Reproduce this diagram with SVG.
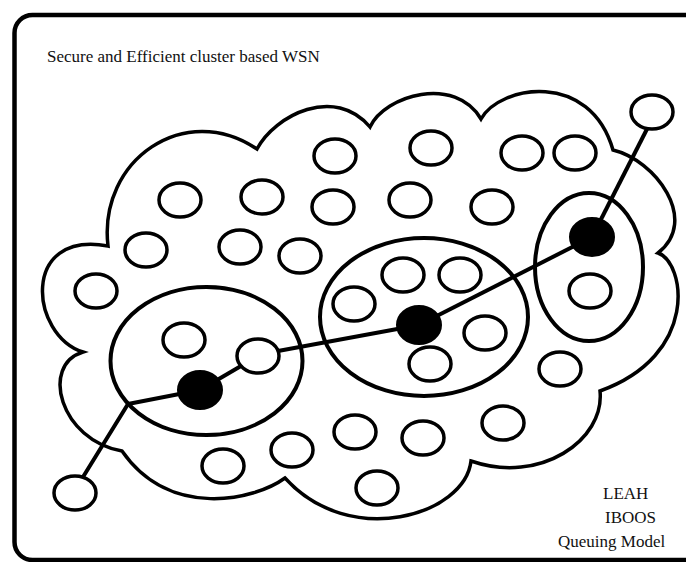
<svg xmlns="http://www.w3.org/2000/svg" width="686" height="562" viewBox="0 0 686 562">
<style>
.frame{fill:none;stroke:#000;stroke-width:4.5}
.cloud{fill:none;stroke:#000;stroke-width:3.5;stroke-linejoin:miter}
.cluster{fill:none;stroke:#000;stroke-width:4}
.node{fill:#fff;stroke:#000;stroke-width:3.5}
.head{fill:#000;stroke:#000;stroke-width:2}
.link{fill:none;stroke:#000;stroke-width:4;stroke-linejoin:round}
.t{font-family:"Liberation Serif","Times New Roman",serif;font-size:17px;fill:#111}
</style>
<rect width="686" height="562" fill="#fff"/>
<rect class="frame" x="14.5" y="15" width="690" height="545" rx="18"/>
<text class="t" x="47" y="62">Secure and Efficient cluster based WSN</text>
<g id="cloud">
<path class="cloud" d="M108,246 C98,160 185,100 257,149 C275,115 335,85 370,127 C385,95 455,75 481,119 C500,85 590,70 613,150 C655,160 700,220 658,253 C685,262 700,355 600,391 C605,440 540,485 471,461 C465,515 350,550 285,478 C255,500 170,520 122,451 C60,440 40,365 83,352 C30,335 20,230 108,246 Z"/>
</g>
<g id="clusters">
<ellipse id="cluster-left" class="cluster" cx="206.5" cy="361" rx="96" ry="74"/>
<ellipse id="cluster-mid" class="cluster" cx="424" cy="317" rx="104" ry="79"/>
<ellipse id="cluster-right" class="cluster" cx="589" cy="267" rx="54" ry="74"/>
</g>
<g id="connectors">
<line class="link" x1="647" y1="129" x2="592" y2="237"/>
<line class="link" x1="592" y1="237" x2="419" y2="325"/>
<line class="link" x1="419" y1="325" x2="278" y2="351"/>
<line class="link" x1="241" y1="366" x2="200" y2="390"/>
<polyline class="link" points="200,390 128,404 83,477"/>
</g>
<g id="nodes">
<g id="n1"><ellipse class="node" cx="335" cy="156" rx="21" ry="17"/></g>
<g id="n2"><ellipse class="node" cx="431" cy="148" rx="21" ry="17"/></g>
<g id="n3"><ellipse class="node" cx="522" cy="153" rx="21" ry="17"/></g>
<g id="n4"><ellipse class="node" cx="575" cy="153" rx="21" ry="17"/></g>
<g id="n5"><ellipse class="node" cx="652" cy="112" rx="21" ry="17"/></g>
<g id="n6"><ellipse class="node" cx="180" cy="200" rx="21" ry="17"/></g>
<g id="n7"><ellipse class="node" cx="262" cy="197" rx="21" ry="17"/></g>
<g id="n8"><ellipse class="node" cx="333" cy="207" rx="21" ry="17"/></g>
<g id="n9"><ellipse class="node" cx="410" cy="200" rx="21" ry="17"/></g>
<g id="n10"><ellipse class="node" cx="492" cy="207" rx="21" ry="17"/></g>
<g id="n11"><ellipse class="node" cx="146" cy="250" rx="21" ry="17"/></g>
<g id="n12"><ellipse class="node" cx="240" cy="247" rx="21" ry="17"/></g>
<g id="n13"><ellipse class="node" cx="300" cy="256" rx="21" ry="17"/></g>
<g id="n14"><ellipse class="node" cx="96" cy="291" rx="21" ry="17"/></g>
<g id="n15"><ellipse class="node" cx="184" cy="340" rx="21" ry="17"/></g>
<g id="n16"><ellipse class="node" cx="258" cy="356" rx="21" ry="17"/></g>
<g id="n17"><ellipse class="node" cx="403" cy="275" rx="21" ry="17"/></g>
<g id="n18"><ellipse class="node" cx="460" cy="275" rx="21" ry="17"/></g>
<g id="n19"><ellipse class="node" cx="354" cy="304" rx="21" ry="17"/></g>
<g id="n20"><ellipse class="node" cx="430" cy="364" rx="21" ry="17"/></g>
<g id="n21"><ellipse class="node" cx="485" cy="333" rx="21" ry="17"/></g>
<g id="n22"><ellipse class="node" cx="590" cy="291" rx="21" ry="17"/></g>
<g id="n23"><ellipse class="node" cx="560" cy="369" rx="21" ry="17"/></g>
<g id="n24"><ellipse class="node" cx="292" cy="450" rx="21" ry="17"/></g>
<g id="n25"><ellipse class="node" cx="355" cy="432" rx="21" ry="17"/></g>
<g id="n26"><ellipse class="node" cx="423" cy="438" rx="21" ry="17"/></g>
<g id="n27"><ellipse class="node" cx="503" cy="423" rx="21" ry="17"/></g>
<g id="n28"><ellipse class="node" cx="223" cy="466" rx="21" ry="17"/></g>
<g id="n29"><ellipse class="node" cx="377" cy="488" rx="21" ry="17"/></g>
<g id="n30"><ellipse class="node" cx="75" cy="493" rx="21" ry="17"/></g>
<g id="ch1"><ellipse class="head" cx="200" cy="390" rx="22" ry="19"/></g>
<g id="ch2"><ellipse class="head" cx="419" cy="325" rx="22" ry="19"/></g>
<g id="ch3"><ellipse class="head" cx="592" cy="237" rx="22" ry="19"/></g>
</g>
<text class="t" x="603" y="499">LEAH</text>
<text class="t" x="605" y="523">IBOOS</text>
<text class="t" x="558" y="547">Queuing Model</text>
</svg>
